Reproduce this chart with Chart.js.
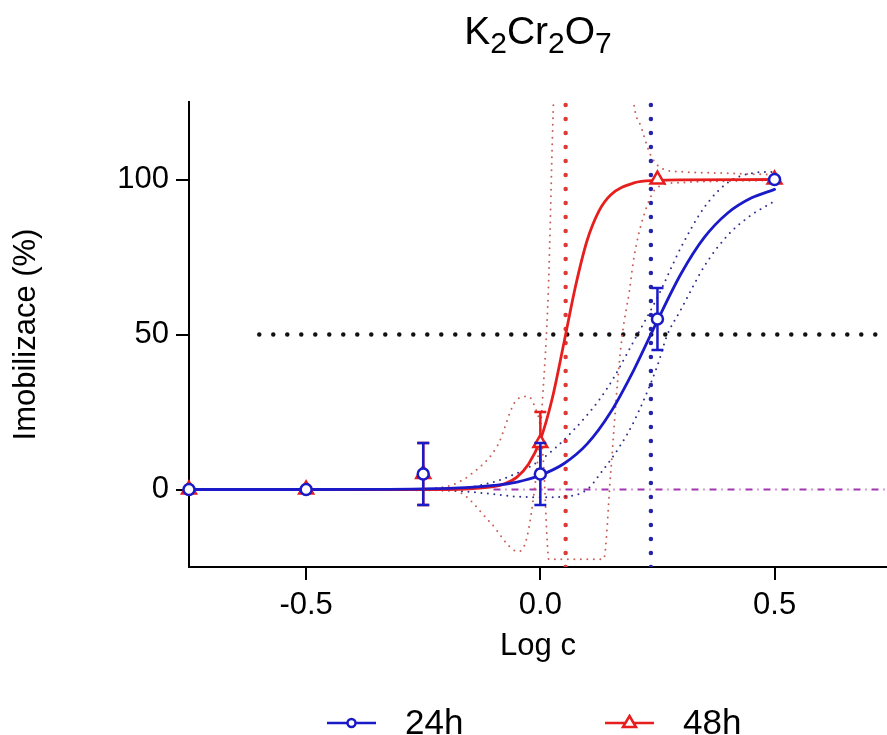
<!DOCTYPE html>
<html>
<head>
<meta charset="utf-8">
<script src="https://cdn.jsdelivr.net/npm/chart.js@4.4.1/dist/chart.umd.min.js"></script>
<style>
  html, body { margin: 0; padding: 0; background: #fff; }
</style>
</head>
<body>
<canvas id="chart" width="887" height="735"></canvas>
<script>
// measured points
const logC = [-0.75, -0.5, -0.25, 0, 0.25, 0.5];
const imob24 = [0, 0, 5, 5, 55, 100];
const err24 = [0, 0, 10, 10, 10, 0];
const imob48 = [0, 0, 5, 15, 100, 100];
const err48 = [0, 0, 10, 10, 0, 0];

// fitted curves
const fitX24 = [-0.75, -0.5, -0.25, -0.15, -0.1, -0.05, 0, 0.05, 0.1, 0.15, 0.2, 0.25, 0.3, 0.35, 0.4, 0.45, 0.5];
const fit24 = [0, 0, 0.2, 0.7, 1.3, 2.4, 4.6, 8.3, 14.7, 24.9, 38.7, 54.5, 69.5, 81.3, 89.2, 94.0, 96.8];
const fitX48 = [-0.75, -0.2, -0.15, -0.1, -0.075, -0.05, -0.025, 0, 0.025, 0.05, 0.075, 0.1, 0.125, 0.15, 0.2, 0.25, 0.3, 0.5];
const fit48 = [0, 0, 0.2, 0.9, 1.9, 4.0, 8.2, 16.0, 29.1, 47.0, 65.5, 80.4, 89.8, 95.0, 98.9, 99.7, 99.9, 100];

// 95% confidence bands
const upX24 = [-0.75, -0.3, -0.2, -0.14, -0.07, 0, 0.07, 0.14, 0.2, 0.25, 0.3, 0.35, 0.4, 0.45, 0.5];
const up24 = [0, 0, 0.3, 1, 4, 9.5, 19, 32, 48, 62, 78, 91, 99, 102, 102.5];
const loX24 = [-0.75, -0.2, -0.1, -0.05, 0, 0.05, 0.1, 0.13, 0.17, 0.2, 0.25, 0.27, 0.3, 0.35, 0.4, 0.45, 0.5];
const lo24 = [0, -0.3, -1.5, -2.3, -2.5, -2.3, 0, 5.5, 14, 22, 40, 49.5, 58, 72, 82, 88.5, 93];
const bandAX48 = [-0.75, -0.3, -0.2, -0.143, -0.092, -0.05, -0.026, -0.01, 0, 0.008, 0.014, 0.018, 0.06, 0.1, 0.135, 0.15, 0.165, 0.175, 0.19, 0.2, 0.22, 0.25, 0.3, 0.4, 0.5];
const bandA48 = [0, 0, 1, 5.5, 14, 29, 30, 26, 20, 5, -15, -22.5, -22.5, -22.5, -22.5, 5, 35, 50, 64, 75, 88, 97.5, 99, 99.5, 99.7];
const bandBX48 = [-0.75, -0.3, -0.2, -0.171, -0.107, -0.047, -0.028, -0.006, 0.005, 0.017, 0.028, 0.05, 0.1, 0.15, 0.185, 0.2, 0.215, 0.235, 0.26, 0.3, 0.4, 0.5];
const bandB48 = [0, 0, -0.3, -1, -10.6, -20, -15, 9, 30, 64, 125, 200, 260, 220, 150, 124, 117, 108, 103.5, 102.5, 102, 101.5];

// reference lines
const logEC50 = [0.236, 0.054];
const halfLine = [-0.6, 0.74];
const zeroLine = [-0.1, 0.74];

const xTicks = [-0.5, 0, 0.5];
const yTicks = [0, 50, 100];

const BLUE = '#1a1ac8';
const RED = '#e61e1e';
const FONT = '"Liberation Sans", Arial, sans-serif';

const xy = (xs, ys) => xs.map((x, i) => ({ x: x, y: ys[i] }));

const curve = (data, color, width, dash) => ({
  data: data,
  borderColor: color,
  borderWidth: width,
  borderDash: dash || [],
  borderCapStyle: 'round',
  pointRadius: 0,
  cubicInterpolationMode: 'monotone',
  fill: false
});

const straight = (data, color, width, dash, cap) => ({
  data: data,
  borderColor: color,
  borderWidth: width,
  borderDash: dash,
  borderCapStyle: cap || 'round',
  pointRadius: 0,
  tension: 0,
  fill: false
});

const errorBars = {
  id: 'errorBars',
  beforeDatasetDraw(chart, args) {
    const ds = chart.data.datasets[args.index];
    if (!ds.errors) return;
    const { ctx, scales: { x, y } } = chart;
    ctx.save();
    ctx.strokeStyle = ds.borderColor;
    ctx.lineWidth = 2.5;
    ds.data.forEach((p, i) => {
      const e = ds.errors[i];
      if (!e) return;
      const px = x.getPixelForValue(p.x);
      const top = y.getPixelForValue(p.y + e);
      const bot = y.getPixelForValue(p.y - e);
      ctx.beginPath();
      ctx.moveTo(px, top); ctx.lineTo(px, bot);
      ctx.moveTo(px - 6, top); ctx.lineTo(px + 6, top);
      ctx.moveTo(px - 6, bot); ctx.lineTo(px + 6, bot);
      ctx.stroke();
    });
    ctx.restore();
  }
};

// title with subscripts, and legend, centred on the plot area
const titleParts = [['K', 0], ['2', 1], ['Cr', 0], ['2', 1], ['O', 0], ['7', 1]];
const legendItems = [['24h', BLUE, 'circle'], ['48h', RED, 'triangle']];

const decorations = {
  id: 'decorations',
  afterDraw(chart) {
    const { ctx, chartArea } = chart;
    const cx = (chartArea.left + chartArea.right) / 2;
    ctx.save();
    ctx.fillStyle = '#000';
    ctx.textBaseline = 'alphabetic';
    ctx.textAlign = 'left';
    const fontFor = sub => (sub ? '30px ' : '39px ') + FONT;
    let w = 0;
    titleParts.forEach(([t, sub]) => { ctx.font = fontFor(sub); w += ctx.measureText(t).width; });
    let tx = cx - w / 2;
    titleParts.forEach(([t, sub]) => {
      ctx.font = fontFor(sub);
      ctx.fillText(t, tx, sub ? 53 : 44);
      tx += ctx.measureText(t).width;
    });

    const ly = 723;
    const starts = [cx - 211, cx + 67];
    legendItems.forEach(([label, color, style], i) => {
      const x0 = starts[i];
      ctx.strokeStyle = color;
      ctx.lineWidth = 2.5;
      ctx.beginPath();
      ctx.moveTo(x0, ly); ctx.lineTo(x0 + 49, ly);
      ctx.stroke();
      const mx = x0 + 24.5;
      ctx.fillStyle = '#fff';
      ctx.beginPath();
      if (style === 'circle') {
        ctx.arc(mx, ly, 4, 0, Math.PI * 2);
      } else {
        ctx.moveTo(mx, ly - 7);
        ctx.lineTo(mx + 6.5, ly + 4);
        ctx.lineTo(mx - 6.5, ly + 4);
        ctx.closePath();
      }
      ctx.fill();
      ctx.stroke();
      ctx.fillStyle = '#000';
      ctx.font = '35px ' + FONT;
      ctx.textBaseline = 'middle';
      ctx.fillText(label, x0 + 78, ly + 1);
      ctx.textBaseline = 'alphabetic';
    });
    ctx.restore();
  }
};

const axisGrid = { drawOnChartArea: false, drawTicks: true, tickLength: 13, color: '#000', lineWidth: 2 };
const axisBorder = { display: true, color: '#000', width: 2 };

new Chart(document.getElementById('chart'), {
  type: 'line',
  data: {
    datasets: [
      { data: xy(logC, imob24), errors: err24, showLine: false, clip: false, borderColor: BLUE, backgroundColor: '#fff',
        pointStyle: 'circle', pointRadius: 5.5, pointBorderWidth: 2.5 },
      { data: xy(logC, imob48), errors: err48, showLine: false, clip: false, borderColor: RED, backgroundColor: '#fff',
        pointStyle: 'triangle', pointRadius: 8, pointBorderWidth: 2.5 },
      curve(xy(fitX24, fit24), BLUE, 2.8),
      curve(xy(fitX48, fit48), RED, 2.8),
      curve(xy(upX24, up24), '#2e2e8e', 2, [0, 6.5]),
      curve(xy(loX24, lo24), '#2e2e8e', 2, [0, 6.5]),
      curve(xy(bandAX48, bandA48), '#c8605a', 2, [0, 6.5]),
      curve(xy(bandBX48, bandB48), '#c8605a', 2, [0, 6.5]),
      straight([{ x: logEC50[0], y: -25 }, { x: logEC50[0], y: 125 }], '#2424a8', 4.5, [0, 14]),
      straight([{ x: logEC50[1], y: -25 }, { x: logEC50[1], y: 125 }], '#de3a36', 4.5, [0, 14]),
      straight([{ x: halfLine[0], y: 50 }, { x: halfLine[1], y: 50 }], '#111', 4.5, [0, 14]),
      straight([{ x: zeroLine[0], y: 0 }, { x: zeroLine[1], y: 0 }], '#a236b0', 2, [7, 5, 1, 5], 'butt')
    ]
  },
  options: {
    responsive: false,
    animation: false,
    layout: { autoPadding: false, padding: { top: 102, right: 0, bottom: 70, left: 0 } },
    plugins: { legend: { display: false }, title: { display: false }, tooltip: { enabled: false } },
    scales: {
      x: {
        type: 'linear',
        min: -0.75,
        max: 0.74,
        afterBuildTicks: s => { s.ticks = xTicks.map(v => ({ value: v })); },
        afterFit: s => { s.height = 98; },
        ticks: { color: '#000', padding: 7, font: { family: FONT, size: 31 }, callback: v => v.toFixed(1) },
        grid: axisGrid,
        border: axisBorder,
        title: { display: true, text: 'Log c', color: '#000', padding: 0, font: { family: FONT, size: 31 } }
      },
      y: {
        min: -25,
        max: 125,
        afterBuildTicks: s => { s.ticks = yTicks.map(v => ({ value: v })); },
        afterFit: s => { s.width = 189; },
        ticks: { color: '#000', padding: 7, font: { family: FONT, size: 31 } },
        grid: axisGrid,
        border: axisBorder,
        title: { display: true, text: 'Imobilizace (%)', color: '#000', padding: { top: 8, bottom: 0 }, font: { family: FONT, size: 31 } }
      }
    }
  },
  plugins: [errorBars, decorations]
});
</script>
</body>
</html>
